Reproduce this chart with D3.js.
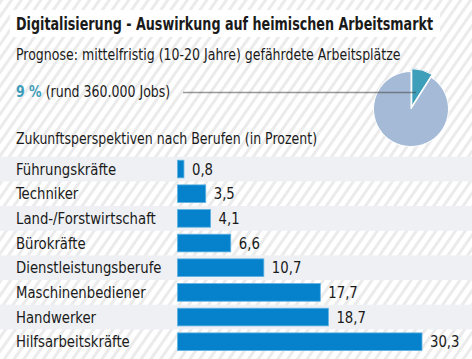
<!DOCTYPE html>
<html>
<head>
<meta charset="utf-8">
<script src="https://cdn.jsdelivr.net/npm/d3@7"></script>
<style>
  html, body { margin: 0; padding: 0; background: #fff; }
  svg { display: block; }
  text { font-family: "DejaVu Sans Condensed", "Liberation Sans Narrow", "Roboto", sans-serif; fill: #1a1a1a; }
</style>
</head>
<body>
<div id="chart"></div>
<script>
// data
const categories = ["Führungskräfte", "Techniker", "Land-/Forstwirtschaft", "Bürokräfte",
                    "Dienstleistungsberufe", "Maschinenbediener", "Handwerker", "Hilfsarbeitskräfte"];
const values = [0.8, 3.5, 4.1, 6.6, 10.7, 17.7, 18.7, 30.3];
const pieLabels = ["gefährdet", "übrige"];
const pieValues = [9, 91];

const W = 472, H = 359;
const fmt = v => d3.format(".1f")(v).replace(".", ",");

// squeeze text horizontally (reference font is narrower than DejaVu Condensed)
function condense(sel, k) {
    sel.each(function() {
        const w = this.getComputedTextLength();
        d3.select(this)
            .attr('textLength', w * k)
            .attr('lengthAdjust', 'spacingAndGlyphs');
    });
}

const svg = d3.select('#chart').append('svg')
    .attr('width', W)
    .attr('height', H);

// striped background
const defs = svg.append('defs');
const pat = defs.append('pattern')
    .attr('id', 'stripes')
    .attr('patternUnits', 'userSpaceOnUse')
    .attr('width', 8).attr('height', 8)
    .attr('patternTransform', 'rotate(35)');
pat.append('rect').attr('width', 8).attr('height', 8).attr('fill', '#fff');
pat.append('rect').attr('width', 3).attr('height', 8).attr('fill', '#ebebeb');

svg.append('rect').attr('width', W).attr('height', H).attr('fill', 'url(#stripes)');

// title box
const titleBox = {x: 10, y: 10, w: 430, h: 27};
svg.append('rect')
    .attr('x', titleBox.x).attr('y', titleBox.y)
    .attr('width', titleBox.w).attr('height', titleBox.h)
    .attr('fill', '#fff');
svg.append('text')
    .attr('x', 16).attr('y', 30)
    .attr('font-size', 17).attr('font-weight', 'bold')
    .attr('textLength', titleBox.w - 13)
    .attr('lengthAdjust', 'spacingAndGlyphs')
    .text('Digitalisierung - Auswirkung auf heimischen Arbeitsmarkt');

const sub = svg.append('text')
    .attr('x', 16).attr('y', 60)
    .attr('font-size', 15)
    .text('Prognose: mittelfristig (10-20 Jahre) gefährdete Arbeitsplätze');
condense(sub, 0.93);

// pie
const cx = 411, cy = 109, r = 37.5;
const pie = d3.pie().sort(null).value(d => d)(pieValues);
const arc = d3.arc().innerRadius(0).outerRadius(r);
const pg = svg.append('g').attr('transform', 'translate(' + cx + ',' + cy + ')');
pg.selectAll('path')
    .data(pie)
    .join('path')
    .attr('d', arc)
    .attr('fill', (d, i) => i === 0 ? '#3d9fba' : '#a4bad6')
    .attr('stroke', '#fff')
    .attr('stroke-width', 1)
    .attr('transform', (d, i) => {
        if (i !== 0) return null;
        const a = (d.startAngle + d.endAngle) / 2, off = 3;
        return 'translate(' + (Math.sin(a) * off) + ',' + (-Math.cos(a) * off) + ')';
    });

const lead = svg.append('text')
    .attr('x', 16).attr('y', 97)
    .attr('font-size', 15);
lead.append('tspan').attr('fill', '#3d9dbb').attr('font-weight', 'bold').text(pieValues[0] + ' %');
lead.append('tspan').text(' (rund 360.000 Jobs)');
condense(lead, 0.93);

svg.append('line')
    .attr('x1', 183).attr('x2', cx + 5)
    .attr('y1', 92.5).attr('y2', 92.5)
    .attr('stroke', 'rgba(70,70,70,0.55)')
    .attr('stroke-width', 1.5);

// bar section
const head = svg.append('text')
    .attr('x', 16).attr('y', 144)
    .attr('font-size', 15)
    .text('Zukunftsperspektiven nach Berufen (in Prozent)');
condense(head, 0.93);

const y = d3.scaleBand()
    .domain(categories)
    .range([156.7, 156.7 + 24.67 * categories.length])
    .paddingInner(0).paddingOuter(0);
const x = d3.scaleLinear()
    .domain([0, d3.max(values)])
    .range([177.5, 422]);

const rows = svg.append('g').selectAll('g')
    .data(categories)
    .join('g')
    .attr('transform', d => 'translate(0,' + y(d) + ')');

rows.filter((d, i) => i % 2 === 0)
    .append('rect')
    .attr('x', 0).attr('width', W)
    .attr('height', y.bandwidth())
    .attr('fill', '#eef0f4');

rows.append('text')
    .attr('class', 'lbl')
    .attr('x', 16)
    .attr('y', y.bandwidth() / 2)
    .attr('dy', '0.36em')
    .attr('font-size', 15.5)
    .text(d => d);
condense(rows.selectAll('.lbl'), 0.95);

rows.append('rect')
    .attr('x', x(0))
    .attr('y', 3.5)
    .attr('width', (d, i) => x(values[i]) - x(0))
    .attr('height', y.bandwidth() - 7)
    .attr('fill', '#0582cb')
    .attr('stroke', '#5fb2e3')
    .attr('stroke-width', 0.8);

const vals = rows.append('text')
    .attr('x', (d, i) => x(values[i]) + 8)
    .attr('y', y.bandwidth() / 2)
    .attr('dy', '0.36em')
    .attr('font-size', 15.5)
    .text((d, i) => fmt(values[i]));
condense(vals, 0.95);
</script>
</body>
</html>
